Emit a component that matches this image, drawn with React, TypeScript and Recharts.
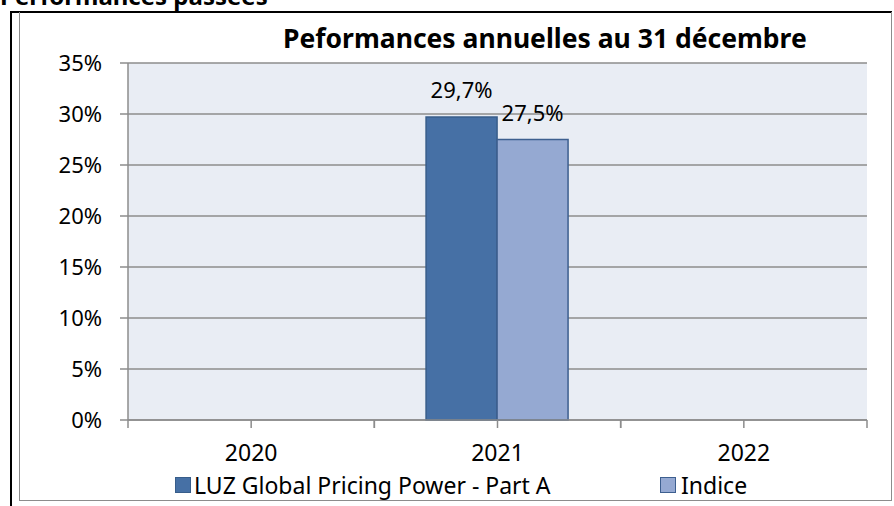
import { BarChart, Bar, XAxis, YAxis, CartesianGrid, LabelList } from 'recharts';

// ── data ────────────────────────────────────────────────────────────
const years = ['2020', '2021', '2022'];
const luzValues = [null, 29.7, null];
const indiceValues = [null, 27.5, null];
const yTicks = [0, 5, 10, 15, 20, 25, 30, 35];

const seriesNames = {
  luz: 'LUZ Global Pricing Power - Part A',
  indice: 'Indice',
};

const data = years.map((year, i) => ({
  year,
  luz: luzValues[i],
  indice: indiceValues[i],
}));

// ── layout ──────────────────────────────────────────────────────────
const W = 894;
const H = 506;
const FONT = '"Noto Sans", sans-serif';
const Y_AXIS_W = 60;
const X_AXIS_H = 40;
const margin = { top: 63, right: 27, left: 68, bottom: 46 };
const plotBottom = H - margin.bottom - X_AXIS_H;
const band = (W - margin.left - margin.right - Y_AXIS_W) / years.length;

const LUZ_FILL = '#4670A5';
const LUZ_STROKE = '#385D8A';
const IDX_FILL = '#95A9D2';
const IDX_STROKE = '#3D5F8F';
const GRID = '#8C8C8C';

const fmtPct = (v: any) =>
  v == null ? '' : `${Number(v).toFixed(1).replace('.', ',')}%`;

function YearTick(props: any) {
  const { x, payload } = props;
  return (
    <g>
      {[x - band / 2, x, x + band / 2].map((tx, i) => (
        <line key={i} x1={tx} x2={tx} y1={plotBottom} y2={plotBottom + 8} stroke={GRID} strokeWidth={1.5} />
      ))}
      <text x={x} y={plotBottom + 41} textAnchor="middle" fontFamily={FONT} fontSize={23} fill="#000">
        {payload.value}
      </text>
    </g>
  );
}

export default function App() {
  return (
    <div style={{ position: 'absolute', left: 0, top: 0, width: W, height: H, overflow: 'hidden', background: '#fff', fontFamily: FONT }}>
      {/* heading, cut off at the top edge like the source page */}
      <div style={{ position: 'absolute', left: 0, top: -21, fontSize: 24, fontWeight: 700, whiteSpace: 'nowrap', lineHeight: 'normal' }}>
        Performances passées
      </div>
      {/* frame */}
      <div style={{ position: 'absolute', left: 10, top: 12, width: 2, height: H - 12, background: '#000' }} />
      <div style={{ position: 'absolute', left: 10, top: 11, width: 882, height: 2, background: '#000' }} />
      <div style={{ position: 'absolute', left: 19, top: 12, width: 871, height: 488, border: '1.5px solid #8C8C8C', borderTop: 'none' }} />

      <div style={{ position: 'absolute', left: 0, top: 0 }}>
        <BarChart width={W} height={H} data={data} margin={margin} barCategoryGap="21%" barGap={0}>
          <CartesianGrid vertical={false} fill="#E9EDF4" stroke={GRID} strokeWidth={1.5} />
          <XAxis
            dataKey="year"
            height={X_AXIS_H}
            axisLine={{ stroke: GRID, strokeWidth: 1.5 }}
            tickLine={false}
            tick={<YearTick />}
            interval={0}
          />
          <YAxis
            width={Y_AXIS_W}
            domain={[0, 35]}
            ticks={yTicks}
            interval={0}
            tickFormatter={(v) => `${v}%`}
            axisLine={{ stroke: GRID, strokeWidth: 1.5 }}
            tickLine={{ stroke: GRID, strokeWidth: 1.5 }}
            tickSize={8}
            tickMargin={18}
            tick={{ fontFamily: FONT, fontSize: 22, fill: '#000' }}
          />
          <Bar dataKey="luz" name={seriesNames.luz} fill={LUZ_FILL} stroke={LUZ_STROKE} strokeWidth={1.5} isAnimationActive={false}>
            <LabelList dataKey="luz" position="top" offset={19} formatter={fmtPct} fontFamily={FONT} fontSize={22} fill="#000" />
          </Bar>
          <Bar dataKey="indice" name={seriesNames.indice} fill={IDX_FILL} stroke={IDX_STROKE} strokeWidth={1.5} isAnimationActive={false}>
            <LabelList dataKey="indice" position="top" offset={19} formatter={fmtPct} fontFamily={FONT} fontSize={22} fill="#000" />
          </Bar>
        </BarChart>
      </div>

      {/* title */}
      <div style={{ position: 'absolute', left: 283, top: 20, fontSize: 26.5, fontWeight: 700, whiteSpace: 'nowrap', color: '#000', lineHeight: 'normal' }}>
        Peformances annuelles au 31 décembre
      </div>

      {/* legend */}
      <div style={{ position: 'absolute', left: 175, top: 469, display: 'flex', alignItems: 'center', fontSize: 23, whiteSpace: 'nowrap', color: '#000' }}>
        <span style={{ display: 'inline-block', width: 14, height: 14, background: LUZ_FILL, border: `1.5px solid ${LUZ_STROKE}`, marginRight: 3 }} />
        <span>{seriesNames.luz}</span>
      </div>
      <div style={{ position: 'absolute', left: 660, top: 469, display: 'flex', alignItems: 'center', fontSize: 23, whiteSpace: 'nowrap', color: '#000' }}>
        <span style={{ display: 'inline-block', width: 14, height: 14, background: IDX_FILL, border: `1.5px solid ${IDX_STROKE}`, marginRight: 5 }} />
        <span>{seriesNames.indice}</span>
      </div>
    </div>
  );
}
